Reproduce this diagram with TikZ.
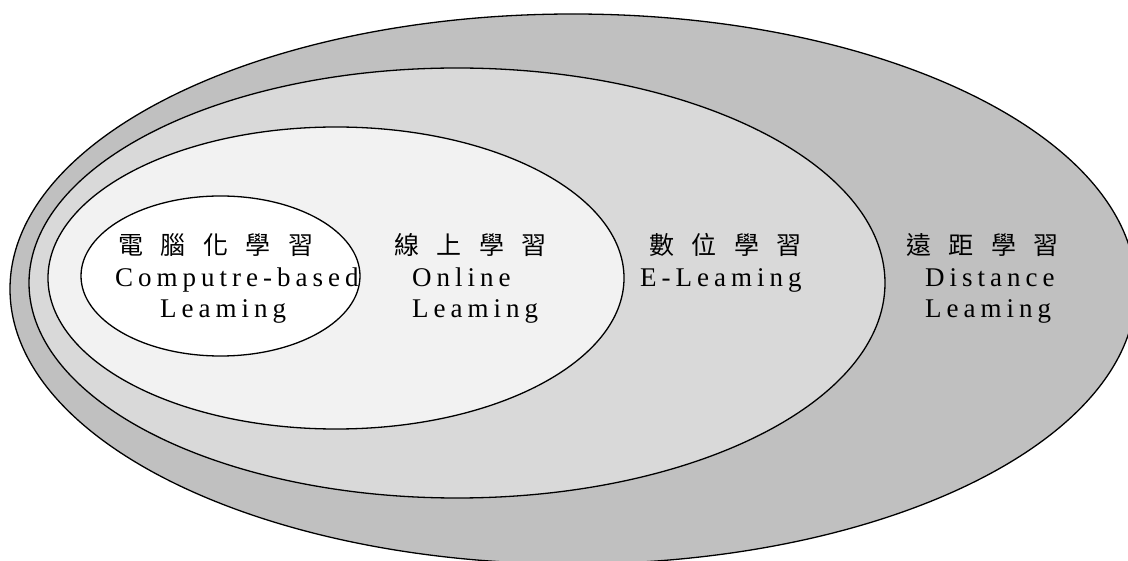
\documentclass[tikz,border=0pt]{standalone}
\usepackage{fontspec}
\setmainfont{Liberation Serif}
\newfontfamily\latsp[LetterSpace=18.5]{Liberation Serif}
\newfontfamily\cjkf{Noto Sans CJK TC}
\newcommand{\cjs}{\hspace{17.5pt}}
\definecolor{ringA}{HTML}{C0C0C0}
\definecolor{ringB}{HTML}{D9D9D9}
\definecolor{ringC}{HTML}{F2F2F2}
\definecolor{ringD}{HTML}{FFFFFF}
\begin{document}
\begin{tikzpicture}[x=1pt,y=-1pt,
  ring/.style={draw=black,line width=1.3pt},
  cjklab/.style={anchor=base west,inner sep=0pt,font=\cjkf\fontsize{25}{28}\selectfont},
  latlab/.style={anchor=base west,inner sep=0pt,font=\latsp\fontsize{27}{30}\selectfont}]
\useasboundingbox (0,0) rectangle (1128,561);
\clip (0,0) rectangle (1128,561);
\fill[white] (0,0) rectangle (1128,561);
% rings
\filldraw[ring,fill=ringA] (573,289) ellipse [x radius=563pt,y radius=275pt];
\filldraw[ring,fill=ringB] (457,283) ellipse [x radius=428pt,y radius=215pt];
\filldraw[ring,fill=ringC] (336,278) ellipse [x radius=288pt,y radius=151pt];
\filldraw[ring,fill=ringD] (220.5,276) ellipse [x radius=139.5pt,y radius=80pt];
% labels
\node[cjklab] (cbl) at (118,255) {電\cjs 腦\cjs 化\cjs 學\cjs 習};
\node[latlab] (cbl1) at (115,287) {Computre-based};
\node[latlab] (cbl2) at (160,318) {Leaming};
\node[cjklab] (onl) at (394,255) {線\cjs 上\cjs 學\cjs 習};
\node[latlab] (onl1) at (412,287) {Online};
\node[latlab] (onl2) at (412,318) {Leaming};
\node[cjklab] (el) at (649,255) {數\cjs 位\cjs 學\cjs 習};
\node[latlab] (el1) at (640,287) {E-Leaming};
\node[cjklab] (dl) at (906,255) {遠\cjs 距\cjs 學\cjs 習};
\node[latlab] (dl1) at (925,287) {Distance};
\node[latlab] (dl2) at (925,318) {Leaming};
\end{tikzpicture}
\end{document}
